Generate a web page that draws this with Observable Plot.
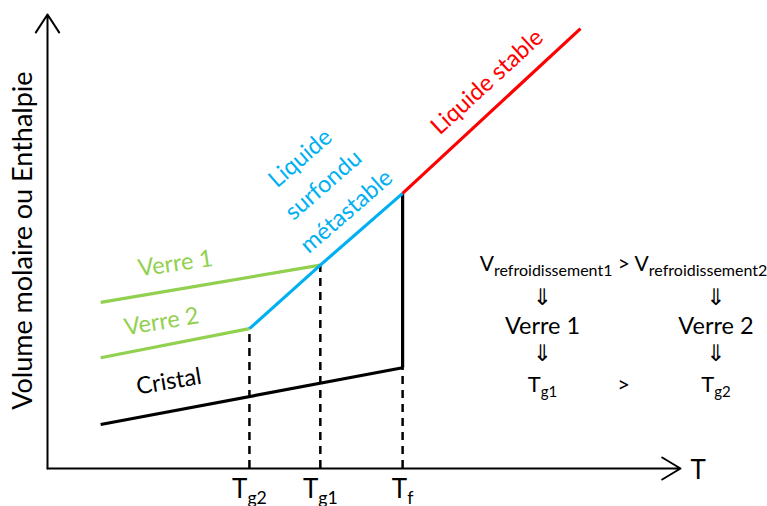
<!DOCTYPE html>
<html>
<head>
<meta charset="utf-8">
<script src="https://cdn.jsdelivr.net/npm/d3@7"></script>
<script src="https://cdn.jsdelivr.net/npm/@observablehq/plot@0.6"></script>
<style>
  html, body { margin: 0; padding: 0; background: #fff; }
  svg { display: block; }
</style>
</head>
<body>
<div id="chart"></div>
<script>
// ---- data (T in arbitrary units, V = molar volume / enthalpy, arbitrary units) ----
const tickT = [31.9, 43.1, 56.1];
const tickLabels = ["T_{g2}", "T_{g1}", "T_{f}"];
const tickTopV = [30.8, 44.8, 22.2];

const cristalT = [8.4, 56.1];
const cristalV = [9.7, 22.2];
const verre1T = [8.4, 43.1];
const verre1V = [36.6, 44.8];
const verre2T = [8.4, 31.9];
const verre2V = [24.4, 30.8];
const surfonduT = [31.9, 43.1, 56.1];
const surfonduV = [30.8, 44.8, 60.6];
const stableT = [56.1, 84.2];
const stableV = [60.6, 96.9];
const fusionT = [56.1, 56.1];
const fusionV = [22.2, 60.6];

const axisTitleY = "Volume molaire ou Enthalpie";
const axisTitleX = "T";

// right-hand annotation block (column positions in T units, rows in V units)
const noteColsT = [78.2, 91.0, 105.6];
const noteRowsV = [45.0, 37.6, 31.2, 25.2, 18.3];
const noteHeadline = "V_{refroidissement1} > V_{refroidissement2}";
const noteGlasses = ["Verre 1", "Verre 2"];
const noteTg = ["T_{g1}", ">", "T_{g2}"];

const GREEN = "#92D050", BLUE = "#00B0F0", RED = "#FF0000";
const FONT = "Lato, 'Open Sans', sans-serif";

const pts = (xs, ys) => xs.map((x, i) => ({x, y: ys[i]}));
// point at fraction t along the x-span of a 2+ point polyline
function along(xs, ys, t) {
  const x = xs[0] + (xs[xs.length - 1] - xs[0]) * t;
  for (let i = 0; i < xs.length - 1; i++) {
    if (x >= xs[i] && x <= xs[i + 1]) {
      const f = (x - xs[i]) / (xs[i + 1] - xs[i]);
      return {x, y: ys[i] + f * (ys[i + 1] - ys[i])};
    }
  }
  return {x, y: ys[0]};
}

const lbl = (series, t, text) => [{...along(series[0], series[1], t), text}];

const plot = Plot.plot({
  width: 767,
  height: 506,
  marginLeft: 47,
  marginRight: 87,
  marginTop: 14,
  marginBottom: 38,
  x: {domain: [0, 100], axis: null},
  y: {domain: [0, 100], axis: null},
  style: {fontFamily: FONT, background: "#fff", overflow: "visible"},
  marks: [
    // dashed drop lines
    Plot.ruleX(tickT.map((t, i) => ({t, v: tickTopV[i]})), {
      x: "t", y1: 0, y2: "v", stroke: "#000", strokeWidth: 2.5, strokeDasharray: "8,6"
    }),
    // axes with arrowheads
    Plot.arrow([{x1: 0, y1: 0, x2: 100, y2: 0}], {
      x1: "x1", y1: "y1", x2: "x2", y2: "y2", stroke: "#000", strokeWidth: 2, headLength: 16, headAngle: 62
    }),
    Plot.arrow([{x1: 0, y1: 0, x2: 0, y2: 100}], {
      x1: "x1", y1: "y1", x2: "x2", y2: "y2", stroke: "#000", strokeWidth: 2, headLength: 16, headAngle: 66
    }),
    // curves
    Plot.line(pts(cristalT, cristalV), {x: "x", y: "y", stroke: "#000", strokeWidth: 3.2, strokeLinecap: "butt"}),
    Plot.line(pts(fusionT, fusionV), {x: "x", y: "y", stroke: "#000", strokeWidth: 3.2, strokeLinecap: "butt"}),
    Plot.line(pts(verre1T, verre1V), {x: "x", y: "y", stroke: GREEN, strokeWidth: 3.2, strokeLinecap: "butt"}),
    Plot.line(pts(verre2T, verre2V), {x: "x", y: "y", stroke: GREEN, strokeWidth: 3.2, strokeLinecap: "butt"}),
    Plot.line(pts(surfonduT, surfonduV), {x: "x", y: "y", stroke: BLUE, strokeWidth: 3.2, strokeLinecap: "butt"}),
    Plot.line(pts(stableT, stableV), {x: "x", y: "y", stroke: RED, strokeWidth: 3.2, strokeLinecap: "butt"}),

    // curve labels
    Plot.text(lbl([stableT, stableV], 0.475, "Liquide stable"), {
      x: "x", y: "y", text: "text", fill: RED, fontSize: 23.5, rotate: -42.5, dy: -33
    }),
    Plot.text(lbl([surfonduT, surfonduV], 0.5, "Liquide\nsurfondu\nmétastable"), {
      x: "x", y: "y", text: "text", fill: BLUE, fontSize: 23.5, rotate: -41, lineHeight: 1.5, dy: -78, dx: -5
    }),
    Plot.text(lbl([verre1T, verre1V], 0.34, "Verre 1"), {
      x: "x", y: "y", text: "text", fill: GREEN, fontSize: 23.5, rotate: -8, dy: -26
    }),
    Plot.text(lbl([verre2T, verre2V], 0.41, "Verre 2"), {
      x: "x", y: "y", text: "text", fill: GREEN, fontSize: 23.5, rotate: -9.5, dy: -24
    }),
    Plot.text(lbl([cristalT, cristalV], 0.226, "Cristal"), {
      x: "x", y: "y", text: "text", fill: "#000", fontSize: 23.5, rotate: -9.5, dy: -30
    }),

    // x tick labels
    Plot.text(tickT.map((t, i) => ({t, s: tickLabels[i]})), {
      x: "t", y: 0, text: "s", fill: "#000", fontSize: 26, dy: 21
    }),
    // axis titles
    Plot.text([axisTitleX], {x: 100, y: 0, text: (d) => d, fontSize: 26, textAnchor: "start", dx: 10, dy: 2}),
    Plot.text([axisTitleY], {x: 0, y: 50.2, text: (d) => d, fontSize: 27, rotate: -90, dx: -24}),

    // right annotation block
    Plot.text([noteHeadline], {x: noteColsT[1], y: noteRowsV[0], text: (d) => d, fontSize: 21}),
    Plot.text([0, 2], {x: (i) => noteColsT[i], y: noteRowsV[1], text: () => "⇓", fontSize: 23, fontFamily: "DejaVu Sans"}),
    Plot.text([0, 2], {x: (i) => noteColsT[i], y: noteRowsV[2], text: (i) => noteGlasses[i / 2], fontSize: 23.5}),
    Plot.text([0, 2], {x: (i) => noteColsT[i], y: noteRowsV[3], text: () => "⇓", fontSize: 23, fontFamily: "DejaVu Sans"}),
    Plot.text([0, 1, 2], {x: (i) => noteColsT[i], y: noteRowsV[4], text: (i) => noteTg[i], fontSize: 22})
  ]
});

document.getElementById("chart").appendChild(plot);

// turn "_{...}" markers into real subscript tspans
function applySubscripts(svg) {
  const NS = "http://www.w3.org/2000/svg";
  svg.querySelectorAll("text").forEach((t) => {
    const s = t.textContent;
    if (!s.includes("_{") || t.children.length) return;
    const fs = parseFloat(getComputedStyle(t).fontSize) || 20;
    const ratio = s.startsWith("V_") ? 0.76 : 0.68;
    const shift = fs * 0.22;
    t.textContent = "";
    let shifted = false;
    for (const p of s.split(/(_\{[^}]*\})/)) {
      if (!p) continue;
      const ts = document.createElementNS(NS, "tspan");
      if (p.startsWith("_{")) {
        ts.textContent = p.slice(2, -1);
        ts.setAttribute("font-size", (fs * ratio).toFixed(1) + "px");
        if (!shifted) ts.setAttribute("dy", shift.toFixed(1));
        shifted = true;
      } else {
        ts.textContent = p;
        if (shifted) ts.setAttribute("dy", (-shift).toFixed(1));
        shifted = false;
      }
      t.appendChild(ts);
    }
  });
}
applySubscripts(plot);
</script>
</body>
</html>
